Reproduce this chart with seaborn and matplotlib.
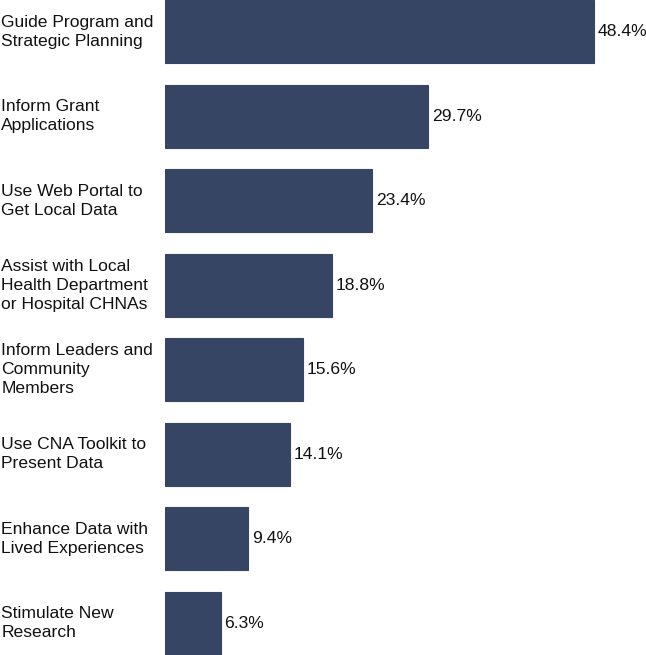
import matplotlib
matplotlib.use("Agg")
import matplotlib.pyplot as plt
import matplotlib.transforms as mtransforms
import seaborn as sns
import pandas as pd

categories = [
    "Guide Program and\nStrategic Planning",
    "Inform Grant\nApplications",
    "Use Web Portal to\nGet Local Data",
    "Assist with Local\nHealth Department\nor Hospital CHNAs",
    "Inform Leaders and\nCommunity\nMembers",
    "Use CNA Toolkit to\nPresent Data",
    "Enhance Data with\nLived Experiences",
    "Stimulate New\nResearch",
]
values = [48.4, 29.7, 23.4, 18.8, 15.6, 14.1, 9.4, 6.3]

df = pd.DataFrame({"cat": categories, "val": values})

plt.rcParams["font.family"] = ["Liberation Sans", "DejaVu Sans"]
fig = plt.figure(figsize=(6.46, 6.55), dpi=100)
ax = fig.add_axes([0.2554, 0.0, 0.7446, 1.0])

sns.barplot(data=df, x="val", y="cat", orient="h", color="#374564",
            width=0.75, edgecolor="#374564", linewidth=0.8, saturation=1, ax=ax)

ax.set_xlim(0, 54.27)
ax.set_ylim(len(values) - 0.625, -0.375)
ax.set_xticks([])
ax.set_yticks([])
ax.set_xlabel("")
ax.set_ylabel("")
for s in ax.spines.values():
    s.set_visible(False)

trans = mtransforms.blended_transform_factory(fig.transFigure, ax.transData)
for i, (c, v) in enumerate(zip(categories, values)):
    ax.text(0.002, i, c, transform=trans, ha="left", va="center",
            fontsize=12.6, linespacing=1.32, color="#111111")
    ax.text(v + 0.4, i, f"{v:.1f}%", ha="left", va="center",
            fontsize=12.6, color="#111111")

fig.savefig("out.png", dpi=100)
